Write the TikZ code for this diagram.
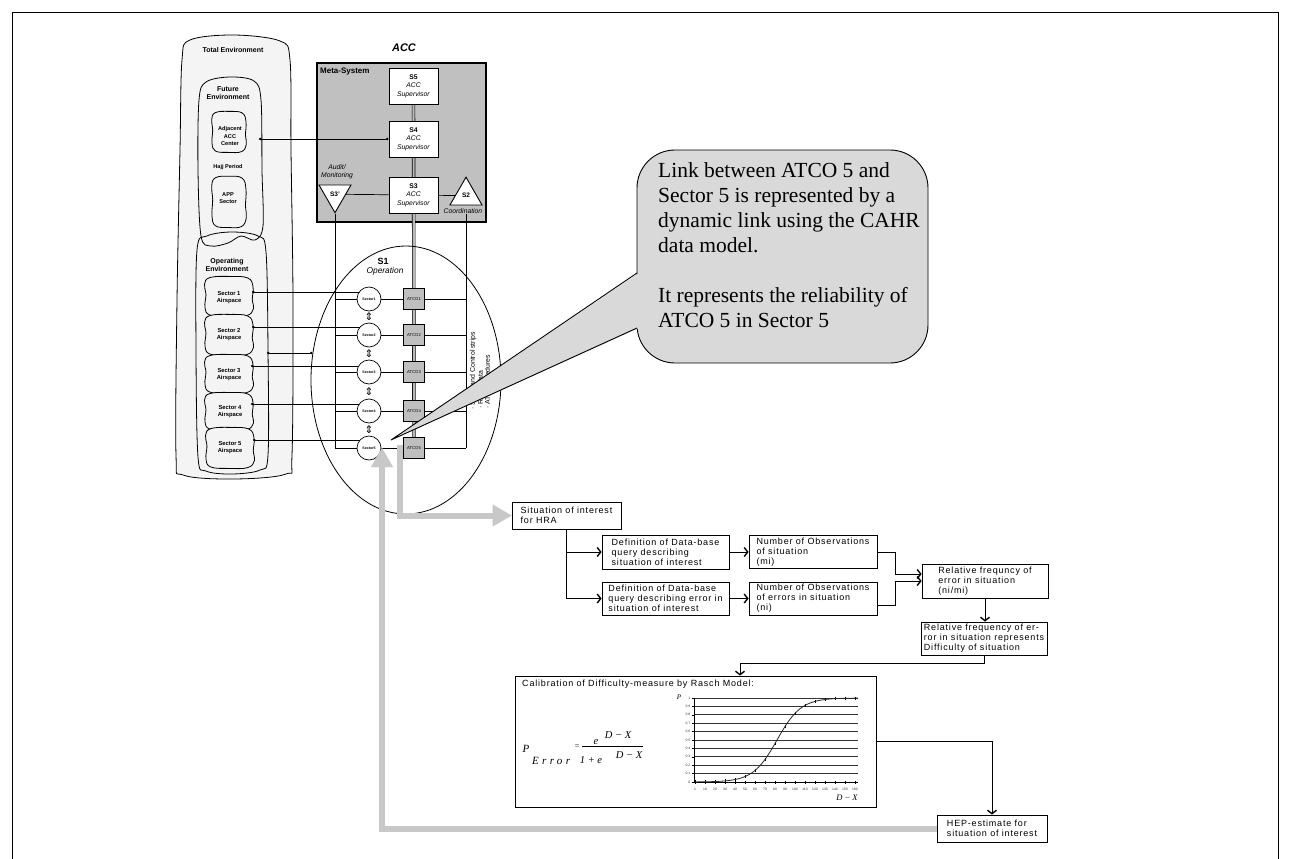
\documentclass[tikz,border=0pt]{standalone}
\usepackage{fontspec}
\setmainfont{Liberation Sans}
\newfontfamily\seriffont{Liberation Serif}
\newfontfamily\symfont{DejaVu Sans}
\newfontfamily\trackfont[LetterSpace=9]{Liberation Sans}
\newfontfamily\wideserif[LetterSpace=30]{Liberation Serif}
\usetikzlibrary{arrows.meta,shapes.geometric,calc}
\pgfdeclarelayer{envlayer}
\pgfdeclarelayer{wires}
\pgfsetlayers{envlayer,wires,main}

\definecolor{envfill}{HTML}{F4F4F4}
\definecolor{metafill}{HTML}{C0C0C0}
\definecolor{atcofill}{HTML}{BFBFBF}
\definecolor{calloutfill}{HTML}{D9D9D9}
\definecolor{bandgray}{HTML}{C8C8C8}

\newcommand\fs[2]{\fontsize{#1}{#2}\selectfont}
% irregular hand-drawn outline around (#1,#2), half sizes #3 x #4
\newcommand\envblob[4]{%
  \draw[envline, shift={(#1,#2)}] plot[smooth cycle, tension=0.7] coordinates {
    (-0.80*#3,-0.97*#4) (0.02*#3,-1.03*#4) (0.78*#3,-0.95*#4) (1.0*#3,-0.5*#4)
    (0.97*#3,0.15*#4) (1.02*#3,0.62*#4) (0.74*#3,0.98*#4) (-0.05*#3,1.02*#4)
    (-0.80*#3,0.95*#4) (-1.0*#3,0.55*#4) (-0.96*#3,-0.1*#4) (-1.02*#3,-0.62*#4)};}

\begin{document}
\begin{tikzpicture}[x=1pt,y=-1pt,
  envline/.style={draw=black, line width=0.8pt, fill=envfill},
  envtxt/.style={font=\bfseries\fs{5.8}{6.8}, align=center, inner sep=0pt},
  envtitle/.style={font=\bfseries\fs{7}{8.3}, align=center, inner sep=0pt},
  sbox/.style={draw, fill=white, line width=0.9pt, minimum width=49pt, minimum height=36pt,
    inner sep=0pt, align=center, font=\fs{6.8}{8.5}},
  tri/.style={draw, fill=white, line width=0.9pt, regular polygon, regular polygon sides=3,
    minimum size=37pt, inner sep=0pt, font=\bfseries\fs{6.5}{7}},
  itlabel/.style={font=\itshape\fs{6.8}{8.3}, align=center, inner sep=0pt},
  link/.style={draw, line width=0.7pt},
  dotstart/.style={link, {Circle[length=2.6pt]}-},
  dotboth/.style={link, {Circle[length=2.6pt]}-{Circle[length=2.6pt]}},
  channel/.style={draw, double=gray!55, double distance=2.2pt, line width=0.6pt},
  secc/.style={circle, draw, fill=white, line width=0.7pt, minimum size=24pt, inner sep=0pt,
    font=\bfseries\fs{3.6}{4}},
  atco/.style={draw, fill=atcofill, line width=0.9pt, minimum size=21pt, inner sep=0pt,
    font=\fs{4.2}{5}},
  updown/.style={inner sep=0pt, font=\symfont\fs{10.5}{11}},
  vtxt/.style={rotate=90, anchor=west, inner sep=0pt, font=\fs{6.9}{8}},
  band/.style={draw=bandgray, line width=6pt, -{Triangle[length=19pt,width=22pt,line width=0.01pt]}},
  flowbox/.style={draw, line width=0.8pt, fill=white, inner xsep=3pt, inner ysep=0pt,
    align=left, font=\trackfont\fs{9}{10}},
  flowarrow/.style={draw, line width=0.8pt, -{Straight Barb[length=3.5pt,width=9pt,line width=1.4pt]}},
  gridl/.style={draw=black!80, line width=0.7pt},
  ticklab/.style={font=\fs{3.4}{4}, inner sep=0pt, text=black!80},
  fml/.style={inner sep=0pt, font=\seriffont\itshape\fs{10.5}{12}}
]
\useasboundingbox (0,0) rectangle (1290,859);

% page frame
\coordinate (fbl) at (12,859); \coordinate (ftl) at (12,12);
\coordinate (ftr) at (1278,12); \coordinate (fbr) at (1278,859);
\draw[line width=0.8pt] (fbl) -- (ftl) -- (ftr) -- (fbr);

% ---------- environment ----------
\begin{pgfonlayer}{envlayer}
  \draw[envline] plot[smooth cycle, tension=0.55] coordinates {(190,40) (234,35) (280,41) (290,60)
    (291,150) (293,300) (292,455) (286,474) (234,479) (183,475) (176,455) (177,300) (180,150) (182,60)};
  \path[fill=envfill] plot[smooth cycle, tension=0.55] coordinates {(206,82) (230,77) (254,81) (261,100)
    (262,170) (263,226) (255,240) (241,236) (228,243) (211,246) (201,236) (198,170) (199,100)};
  \path[fill=envfill] plot[smooth cycle, tension=0.55] coordinates {(207,236) (232,232) (258,236) (266,252)
    (268,350) (268,455) (260,470) (232,474) (206,471) (198,457) (196,350) (197,250)};
  \draw[line width=0.8pt] plot[smooth cycle, tension=0.55] coordinates {(206,82) (230,77) (254,81) (261,100)
    (262,170) (263,226) (255,240) (241,236) (228,243) (211,246) (201,236) (198,170) (199,100)};
  \draw[line width=0.8pt] plot[smooth cycle, tension=0.55] coordinates {(207,236) (232,232) (258,236) (266,252)
    (268,350) (268,455) (260,470) (232,474) (206,471) (198,457) (196,350) (197,250)};
  \envblob{229}{132}{17}{20}
  \envblob{229}{202}{17}{25}
  \envblob{229}{296.5}{24}{19.5}
  \envblob{229}{335}{24}{20}
  \envblob{229}{374}{24}{19}
  \envblob{229}{411.5}{24}{18.5}
  \envblob{230}{448}{24}{20}
  % meta-system frame
  \node[draw, fill=metafill, line width=1.2pt, minimum width=169pt, minimum height=159pt,
    inner sep=0pt] (meta) at (401.5,142.5) {};
\end{pgfonlayer}

\node[envtitle] (totlbl) at (233,50) {Total Environment};
\node[envtitle] (futlbl) at (228,93) {Future\\Environment};
\node[envtxt, font=\bfseries\fs{5.6}{7.3}] (adj) at (230,136) {Adjacent\\ACC\\Center};
\node[envtxt, font=\bfseries\fs{5.6}{7}] (hajj) at (228,167) {Hajj Period};
\node[envtxt, font=\bfseries\fs{5.6}{7}] (app) at (228,198.5) {APP\\Sector};
\node[envtitle] (oplbl) at (227,265) {Operating\\Environment};
\node[envtxt] (sec1) at (229,297.3) {Sector 1\\Airspace};
\node[envtxt] (sec2) at (229,334.7) {Sector 2\\Airspace};
\node[envtxt] (sec3) at (229,374.7) {Sector 3\\Airspace};
\node[envtxt] (sec4) at (230,411.7) {Sector 4\\Airspace};
\node[envtxt] (sec5) at (230,447.3) {Sector 5\\Airspace};

% ---------- meta-system ----------
\node[font=\bfseries\fs{8}{9}, anchor=west, inner sep=0pt] (metalbl) at (320,72) {Meta-System};
\node[font=\bfseries\itshape\fs{11}{12}, inner sep=0pt] (acc) at (404,48) {ACC};
\node[sbox] (s5) at (413.5,86) {\textbf{S5}\\\textit{ACC}\\\textit{Supervisor}};
\node[sbox] (s4) at (413.5,139) {\textbf{S4}\\\textit{ACC}\\\textit{Supervisor}};
\node[sbox] (s3) at (413.5,195) {\textbf{S3}\\\textit{ACC}\\\textit{Supervisor}};
\node[tri, shape border rotate=180] (s3p) at (335,194.2) {S3'};
\node[tri] (s2) at (466,195.7) {S2};
\node[itlabel] (audit) at (337,171.5) {Audit/\\Monitoring};
\node[itlabel] (coordlbl) at (463,211) {Coordination};

% ---------- S1 operation ----------
\node[draw, ellipse, line width=0.8pt, minimum width=190pt, minimum height=268pt, inner sep=0pt] (s1) at (406,380) {};
\node[font=\bfseries\fs{9}{10}, inner sep=0pt] (s1lbl) at (383,261) {S1};
\node[font=\itshape\fs{8.4}{9}, inner sep=0pt] (s1op) at (385,271.5) {Operation};

\foreach \k/\yy in {1/299,2/335,3/372,4/411,5/448}{
  \node[secc] (c\k) at (369,\yy) {Sector\k};
  \node[atco] (a\k) at (414,\yy) {ATCO\k};
}
% two-way exchange between neighbouring sectors
\foreach \k/\n in {1/2,2/3,3/4,4/5}{
  \node[updown] (ud\k) at ($(c\k.south)!0.5!(c\n.north)$) {⇕};
}

\coordinate (futout) at (259,139);
\coordinate (opout) at (267,353);
\coordinate (so1) at (252,292);
\coordinate (so2) at (252,327);
\coordinate (so3) at (251,366);
\coordinate (so4) at (251,404);
\coordinate (so5) at (253,440);
\coordinate (lvtop) at (s3p.corner 1);

\begin{pgfonlayer}{wires}
  \draw[channel] (s5.center) -- (a5.center);
  \draw[link] (s3p) -- (s3);
  \draw[link] (s3) -- (s2);
  \draw[dotboth] (futout) -- (s4.west);
  \draw[link] (lvtop) -- (lvtop |- c5.center);
  \draw[link] (s2 |- coordlbl.south) -- (s2 |- a5.center);
  \foreach \k in {1,...,5}{
    \draw[link] (lvtop |- c\k.center) -- (c\k.center);
    \draw[link] (c\k.center) -- (a\k.center);
    \draw[link] (a\k.center) -- (s2 |- a\k.center);
    \draw[dotstart] (so\k) -- (so\k -| c\k.center);
  }
  \draw[dotboth] (opout) -- (opout -| s1.164);
\end{pgfonlayer}

% information channels beside the ATCO column
\node[vtxt] (vt1) at (473,410) {· Strips and Control strips};
\node[vtxt] (vt2) at (480.5,409) {· Radar data};
\node[vtxt] (vt3) at (488,409) {· ATC procedures};

% ---------- flow chart ----------
\node[flowbox, minimum width=109pt, minimum height=27pt] (sit) at (566.5,515.5) {Situation of interest\\for HRA};
\node[flowbox, minimum width=127pt, minimum height=34pt] (def1) at (665.5,552) {Definition of Data-base\\query describing\\situation of interest};
\node[flowbox, minimum width=127pt, minimum height=33pt] (def2) at (665.5,598.5) {Definition of Data-base\\query describing error in\\situation of interest};
\node[flowbox, minimum width=128pt, minimum height=33pt] (num1) at (813,552) {Number of Observations\\of situation\\(mi)};
\node[flowbox, minimum width=128pt, minimum height=33pt] (num2) at (813,598.5) {Number of Observations\\of errors in situation\\(ni)};
\node[flowbox, minimum width=126pt, minimum height=34pt] (rel) at (985,581) {Relative frequncy of\\error in situation\\(ni/mi)};
\node[flowbox, minimum width=126pt, minimum height=33pt] (rel2) at (984,638.5) {Relative frequency of er-\\ror in situation represents\\Difficulty of situation};
\node[draw, line width=0.8pt, minimum width=361pt, minimum height=131pt, inner sep=0pt] (rasch) at (695.5,741.5) {};
\node[flowbox, minimum width=110pt, minimum height=27pt] (hep) at (992,828.5) {HEP-estimate for\\situation of interest};

\draw[flowarrow] (sit.south) |- (def1.west);
\draw[flowarrow] (sit.south) |- (def2.west);
\draw[flowarrow] (def1) -- (num1);
\draw[flowarrow] (def2) -- (num2);
\draw[flowarrow] (num1.east) -- ++(18,0) |- ([yshift=7pt]rel.west);
\draw[flowarrow] ([yshift=-7pt]num2.east) -- ++(18,0) |- (rel.west);
\draw[flowarrow] (rel.south) -- (rel.south |- rel2.north);
\coordinate (rj) at (740,663);
\draw[flowarrow] (rel2.south) |- (rj) -- (rj |- rasch.north);
\draw[flowarrow] (rasch.east) -| (hep.north);

% Rasch model panel
\node[font=\trackfont\fs{9}{10}, anchor=west, inner sep=0pt] (rtitle) at (522,684) {Calibration of Difficulty-measure by Rasch Model:};
\node[fml, font=\seriffont\itshape\fs{11}{12}] (fP) at (526,749) {P};
\node[fml, font=\wideserif\itshape\fs{11}{12}, anchor=west] (fErr) at (532,761) {Error};
\node[fml, font=\seriffont\fs{8}{9}] (feq) at (577,747) {=};
\coordinate (fbl1) at (582,746); \coordinate (fbr1) at (643,746);
\draw[line width=0.8pt] (fbl1) -- (fbr1);
\node[fml, anchor=base] (fe1) at (596,744.5) {e};
\node[fml] (fx1) at (618,735) {D − X};
\node[fml] (fden) at (591,760) {1 + e};
\node[fml] (fx2) at (629,755) {D − X};

\foreach \k in {1,...,10}{
  \draw[gridl] (694,{782-8.4*\k}) -- (858,{782-8.4*\k});
}
\draw[line width=0.9pt] (694,782) -- (858,782);
\draw[line width=0.6pt] (694,698) -- (694,782);
\foreach \k/\lab in {0/0,1/0.1,2/0.2,3/0.3,4/0.4,5/0.5,6/0.6,7/0.7,8/0.8,9/0.9,10/1}{
  \draw[line width=0.5pt] (691.5,{782-8.4*\k}) -- (694,{782-8.4*\k});
  \node[ticklab, anchor=east] (yl\k) at (690.5,{782-8.4*\k}) {\lab};
}
\foreach \i/\lab in {0/1,1/10,2/20,3/30,4/40,5/50,6/60,7/70,8/80,9/90,10/100,11/110,12/120,13/130,14/140,15/150,16/160}{
  \draw[line width=0.5pt] ({695+10*\i},780.5) -- ({695+10*\i},783.5);
  \node[ticklab] (xl\i) at ({695+10*\i},789) {\lab};
  \draw[line width=0.5pt] ({695+10*\i},{782-84/(1+exp(-(695+10*\i-777)/12))-1.6}) -- ++(0,3.2);
}
\draw[line width=0.8pt, black!85] plot[domain=694:858, samples=90] (\x,{782-84/(1+exp(-(\x-777)/12))});
\node[fml, font=\seriffont\itshape\fs{7}{8}] (cp) at (679,697) {P};
\node[fml, font=\seriffont\itshape\fs{8.5}{9}] (cdx) at (847,798) {D − X};

% ---------- feedback bands ----------
\coordinate (g1s) at (400,445);
\coordinate (g2t) at (382,448);
\draw[band] (g1s) |- (sit.west);
\draw[band] (hep.west) -| (g2t);

% ---------- callout ----------
\node[draw, fill=calloutfill, line width=0.9pt, rounded corners=38pt, minimum width=291pt,
  minimum height=213pt, inner sep=0pt] (callout) at (782.5,256.5) {};
\coordinate (w1) at (637,273); \coordinate (w2) at (637,328); \coordinate (ctip) at (391,440);
\fill[calloutfill] ([xshift=2pt]w1) -- (ctip) -- ([xshift=2pt]w2) -- cycle;
\draw[line width=0.9pt] (w1) -- (ctip) -- (w2);
\node[font=\seriffont\fs{21.5}{25}, align=left, anchor=north west, inner sep=0pt] (ctext) at (658,162)
  {Link between ATCO 5 and\\Sector 5 is represented by a\\dynamic link using the CAHR\\data model.\\[25pt]It represents the reliability of\\ATCO 5 in Sector 5};
\end{tikzpicture}
\end{document}
